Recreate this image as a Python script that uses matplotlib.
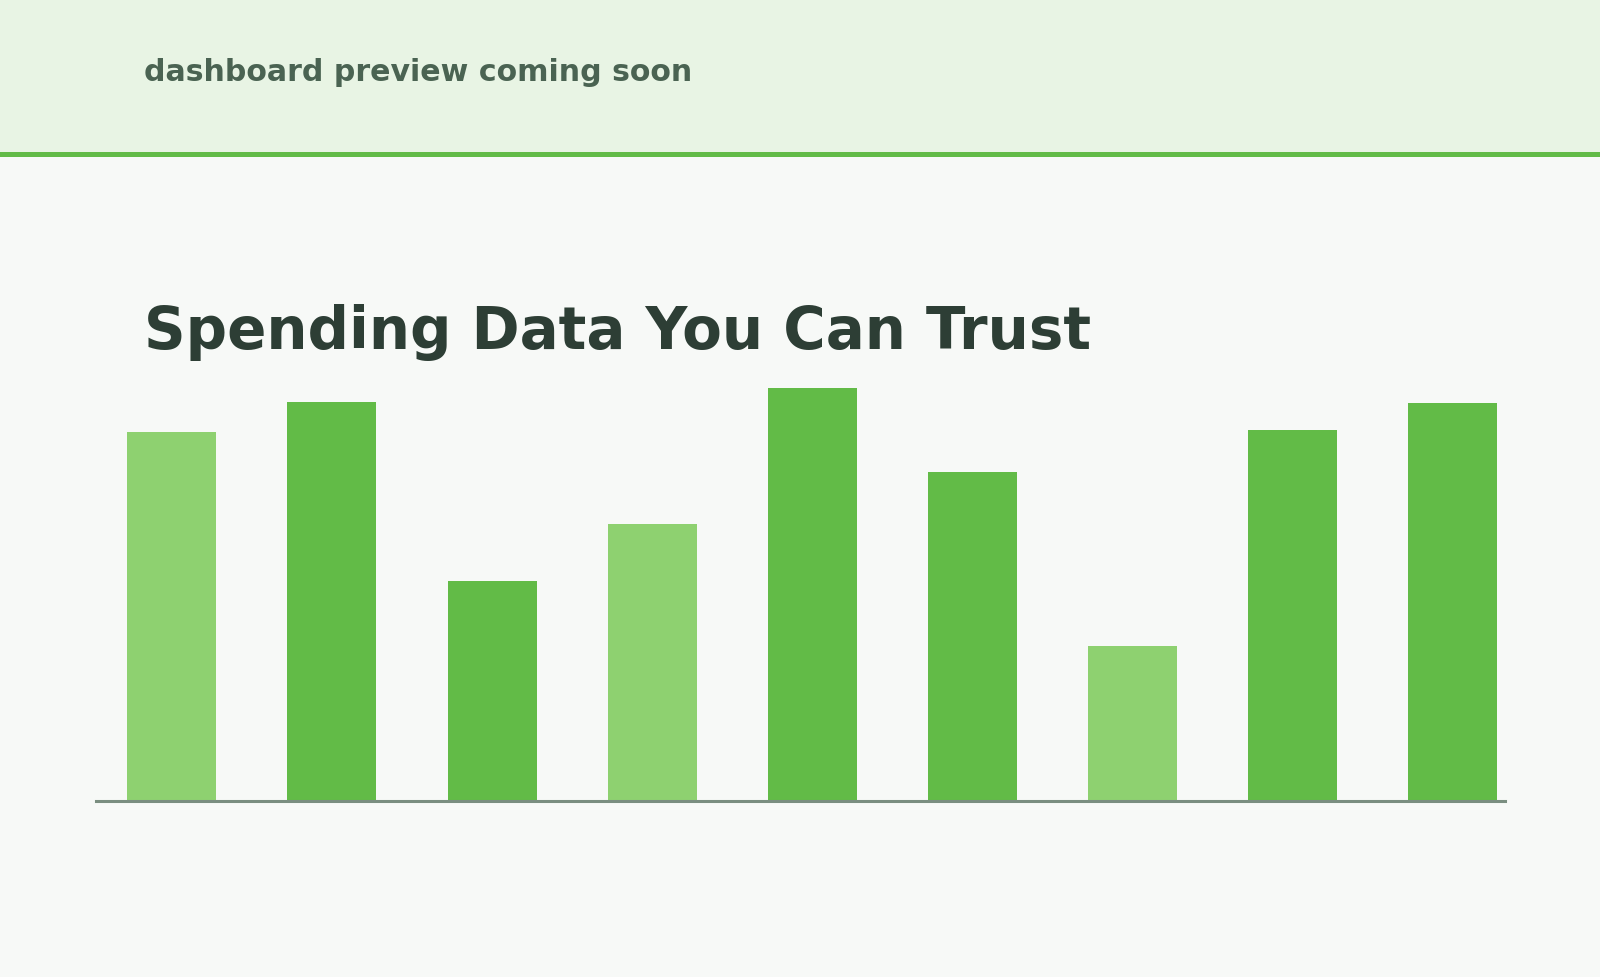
import matplotlib
matplotlib.use("Agg")
import matplotlib.pyplot as plt
from matplotlib.patches import Rectangle

# Data
categories = ["A", "B", "C", "D", "E", "F", "G", "H", "I"]
values = [89.4, 96.5, 53.2, 67.1, 100.0, 79.7, 37.6, 89.9, 96.3]
highlight = [True, False, False, True, False, False, True, False, False]

title = "Spending Data You Can Trust"
subtitle = "dashboard preview coming soon"

W, H = 1600, 978
fig = plt.figure(figsize=(W / 100, H / 100), dpi=100)
fig.patch.set_facecolor("#f7f9f7")

# header band
fig.add_artist(Rectangle((0, 1 - 154 / H), 1, 154 / H, transform=fig.transFigure,
                         facecolor="#e8f4e4", edgecolor="none", zorder=0))
fig.add_artist(Rectangle((0, 1 - 157.5 / H), 1, 4.5 / H, transform=fig.transFigure,
                         facecolor="#62bb47", edgecolor="none", zorder=1))

fig.text(144 / W, 1 - 73 / H, subtitle, fontsize=21.6, fontweight="bold",
         color="#4a6352", ha="left", va="center")
fig.text(144 / W, 1 - 349 / H, title, fontsize=41.7, fontweight="bold",
         color="#2d3e35", ha="left", va="baseline")

# axes
ax_left, ax_right = 96, 1505
ax_bottom, ax_top = 802, 389
ax = fig.add_axes([ax_left / W, 1 - ax_bottom / H, (ax_right - ax_left) / W,
                   (ax_bottom - ax_top) / H])
ax.set_facecolor("none")
x = list(range(len(categories)))
colors = ["#8ed170" if h else "#62bb47" for h in highlight]
ax.bar(x, values, width=0.556, color=colors, zorder=2)
ax.set_xlim(-0.474, 8.328)
ax.set_ylim(0, 100)
for s in ["top", "right", "left"]:
    ax.spines[s].set_visible(False)
ax.spines["bottom"].set_color("#7a8e80")
ax.spines["bottom"].set_linewidth(2.2)
ax.spines["bottom"].set_zorder(3)
ax.set_xticks([])
ax.set_yticks([])

fig.savefig("out.png", dpi=100, facecolor=fig.get_facecolor())
